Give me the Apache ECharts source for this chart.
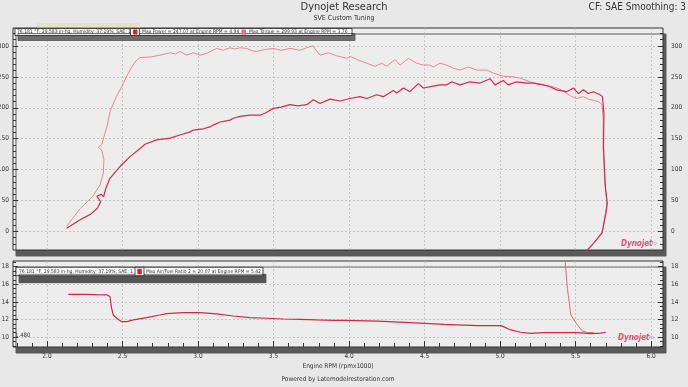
<!DOCTYPE html>
<html><head><meta charset="utf-8">
<script src="https://cdn.jsdelivr.net/npm/echarts@6/dist/echarts.min.js"></script>
<style>html,body{margin:0;padding:0;background:#e8e8e8;}#c{width:688px;height:387px;}</style>
</head><body><div id="c"></div>
<script>
const FONT = '"Liberation Sans Narrow","DejaVu Sans Condensed","Liberation Sans",sans-serif';

// X axis (Engine RPM x1000)
const rpmMajor = [2.0, 2.5, 3.0, 3.5, 4.0, 4.5, 5.0, 5.5, 6.0];
const rpmMinor = [1.8,1.9,2.0,2.1,2.2,2.3,2.4,2.5,2.6,2.7,2.8,2.9,3.0,3.1,3.2,3.3,3.4,3.5,3.6,3.7,3.8,3.9,4.0,4.1,4.2,4.3,4.4,4.5,4.6,4.7,4.8,4.9,5.0,5.1,5.2,5.3,5.4,5.5,5.6,5.7,5.8,5.9,6.0];
// Top panel ticks
const topMajor = [0, 50, 100, 150, 200, 250, 300];
const topMinor = [-20,-10,0,10,20,30,40,50,60,70,80,90,100,110,120,130,140,150,160,170,180,190,200,210,220,230,240,250,260,270,280,290,300,310,320];
// Bottom panel ticks
const botMajor = [10, 12, 14, 16, 18];
const botMinor = [9,9.5,10,10.5,11,11.5,12,12.5,13,13.5,14,14.5,15,15.5,16,16.5,17,17.5,18,18.5];

// Power [rpm, hp]
const powerData = [
 [2.13,5],[2.22,19],[2.29,28],[2.335,38],[2.355,48],[2.33,57],[2.36,60],[2.375,56],[2.39,70],[2.417,86],
 [2.483,105],[2.55,121],[2.616,134],[2.649,141],[2.726,148],[2.815,151],[2.881,156],[2.947,161],[2.969,164],
 [3.035,166],[3.079,169],[3.101,172],[3.146,177],[3.212,180],[3.234,183],[3.278,186],[3.344,188],[3.411,188],
 [3.45,192],[3.499,199],[3.55,201],[3.609,205],[3.66,203],[3.72,205],[3.764,213],[3.808,207],[3.874,214],
 [3.94,211],[4.007,215],[4.073,218],[4.117,215],[4.183,221],[4.227,218],[4.293,228],[4.316,224],[4.36,232],
 [4.404,226],[4.459,239],[4.492,232],[4.558,235],[4.603,237],[4.647,237],[4.68,242],[4.735,237],[4.801,242],
 [4.868,240],[4.934,247],[4.967,237],[5.022,244],[5.055,237],[5.11,242],[5.177,240],[5.221,240],[5.287,237],
 [5.331,234],[5.375,229],[5.442,226],[5.486,232],[5.519,223],[5.552,229],[5.585,223],[5.618,226],[5.662,221],
 [5.678,218],[5.688,190],[5.685,137],[5.696,78],[5.70,66],[5.71,45],[5.70,28],[5.676,-2],[5.62,-19],[5.566,-33]
];
// Torque [rpm, lb-ft]
const torqueData = [
 [2.13,8],[2.22,37],[2.30,56],[2.351,75],[2.373,94],[2.377,116],[2.362,132],[2.34,136],[2.362,140],[2.384,159],
 [2.40,172],[2.417,194],[2.46,218],[2.495,234],[2.53,252],[2.561,266],[2.59,276],[2.616,281],[2.682,282],
 [2.748,285],[2.815,289],[2.85,287],[2.881,291],[2.925,285],[2.969,289],[3.013,285],[3.058,288],[3.124,296],
 [3.168,293],[3.212,297],[3.245,295],[3.278,297],[3.322,296],[3.36,292],[3.389,291],[3.44,294],[3.499,296],
 [3.55,293],[3.609,296],[3.675,293],[3.742,299],[3.76,299.9],[3.808,285],[3.863,289],[3.918,284],[3.985,280],
 [4.007,283],[4.062,277],[4.117,272],[4.172,267],[4.217,272],[4.25,267],[4.305,278],[4.338,269],[4.393,280],
 [4.448,272],[4.492,269],[4.505,267],[4.536,269],[4.558,266],[4.603,272],[4.647,269],[4.691,264],[4.735,261],
 [4.79,266],[4.846,261],[4.912,261],[4.956,256],[5.022,251],[5.088,250],[5.132,248],[5.199,242],[5.243,239],
 [5.287,237],[5.353,234],[5.397,230],[5.442,223],[5.475,218],[5.508,215],[5.552,218],[5.585,214],[5.618,212],
 [5.651,210],[5.675,205],[5.684,180],[5.683,135],[5.694,80],[5.698,68],[5.708,47],[5.699,30],[5.674,-4],
 [5.618,-20],[5.562,-34]
];
// Air/Fuel ratio [rpm, AFR]
const afrData = [
 [2.141,14.86],[2.25,14.85],[2.33,14.82],[2.395,14.8],[2.417,14.6],[2.428,13.27],[2.439,12.5],[2.461,12.13],
 [2.495,11.74],[2.528,11.74],[2.572,11.94],[2.66,12.2],[2.748,12.5],[2.79,12.65],[2.9,12.77],[3.013,12.77],
 [3.124,12.62],[3.234,12.39],[3.344,12.2],[3.455,12.13],[3.565,12.05],[3.676,12.0],[3.786,11.94],[3.896,11.9],
 [3.97,11.9],[4.187,11.8],[4.408,11.63],[4.629,11.44],[4.85,11.29],[5.005,11.29],[5.038,11.06],[5.071,10.8],
 [5.137,10.54],[5.203,10.42],[5.291,10.5],[5.402,10.5],[5.512,10.5],[5.556,10.45],[5.6,10.38],[5.667,10.45],
 [5.70,10.54]
];
const afr2Data = [
 [5.424,20.07],[5.434,18.0],[5.446,15.54],[5.469,12.5],[5.49,11.94],[5.512,11.37],[5.545,10.69],[5.578,10.5],[5.62,10.5]
];

const X_MIN = 1.775, X_MAX = 6.079;
const TOP_MIN = -30, TOP_MAX = 329;
const BOT_MIN = 8.86, BOT_MAX = 18.65;

const lblStyle = {fontSize: 6.5, color: '#333', fontFamily: FONT};
const splitStyle = {show: true, lineStyle: {color: '#b8b8b8', type: [2, 2], width: 0.8}};
const LEG = '5px ' + FONT;

function yAx(grid, pos, min, max, major, minor, kind, extra) {
  const base = {type: 'value', gridIndex: grid, position: pos, min: min, max: max,
    axisLine: {show: false, onZero: false}};
  if (kind === 'major') {
    return Object.assign(base, {
      axisTick: {show: true, inside: true, length: 5, customValues: major, lineStyle: {color: '#333'}},
      axisLabel: Object.assign({customValues: major, margin: pos === 'left' ? 4 : 8}, lblStyle),
      splitLine: pos === 'left' ? splitStyle : {show: false}
    }, extra || {});
  }
  return Object.assign(base, {
    axisTick: {show: true, inside: true, length: 3, customValues: minor, lineStyle: {color: '#333'}},
    axisLabel: {show: false}, splitLine: {show: false}
  });
}

const chart = echarts.init(document.getElementById('c'));
const gridBase = {left: 13, right: 25, show: true, backgroundColor: '#ededed', borderColor: '#333', borderWidth: 1,
  shadowColor: '#5a5a5a', shadowOffsetX: 3, shadowOffsetY: 6, shadowBlur: 0.1,
  containLabel: false, outerBoundsMode: 'none'};

const option = {
  animation: false,
  backgroundColor: '#e8e8e8',
  textStyle: {fontFamily: FONT},
  grid: [
    Object.assign({top: 28, bottom: 137}, gridBase),
    Object.assign({top: 261, bottom: 40}, gridBase)
  ],
  xAxis: [
    {type: 'value', gridIndex: 0, min: X_MIN, max: X_MAX, position: 'bottom',
     axisLine: {show: false, onZero: false}, axisTick: {show: false, customValues: rpmMajor},
     axisLabel: {show: false, customValues: rpmMajor}, splitLine: splitStyle},
    {type: 'value', gridIndex: 1, min: X_MIN, max: X_MAX, position: 'bottom',
     axisLine: {show: false, onZero: false},
     axisTick: {show: true, inside: true, length: 6, customValues: rpmMajor, lineStyle: {color: '#333'}},
     axisLabel: Object.assign({customValues: rpmMajor, margin: 6, formatter: v => v.toFixed(1)}, lblStyle),
     splitLine: splitStyle,
     name: 'Engine RPM (rpmx1000)', nameLocation: 'middle', nameGap: 16,
     nameTextStyle: {fontSize: 6.5, color: '#333', fontFamily: FONT}},
    {type: 'value', gridIndex: 1, min: X_MIN, max: X_MAX, position: 'bottom',
     axisLine: {show: false, onZero: false},
     axisTick: {show: true, inside: true, length: 4, customValues: rpmMinor, lineStyle: {color: '#333'}},
     axisLabel: {show: false}, splitLine: {show: false}}
  ],
  yAxis: [
    yAx(0, 'left', TOP_MIN, TOP_MAX, topMajor, topMinor, 'major'),
    yAx(0, 'left', TOP_MIN, TOP_MAX, topMajor, topMinor, 'minor'),
    yAx(0, 'right', TOP_MIN, TOP_MAX, topMajor, topMinor, 'major',
      {name: 'Torque (lbf·ft)', nameLocation: 'middle', nameRotate: -90, nameGap: 16,
       nameTextStyle: {fontSize: 6.5, color: '#333', fontFamily: FONT}}),
    yAx(0, 'right', TOP_MIN, TOP_MAX, topMajor, topMinor, 'minor'),
    yAx(1, 'left', BOT_MIN, BOT_MAX, botMajor, botMinor, 'major'),
    yAx(1, 'left', BOT_MIN, BOT_MAX, botMajor, botMinor, 'minor'),
    yAx(1, 'right', BOT_MIN, BOT_MAX, botMajor, botMinor, 'major',
      {name: 'Ratio', nameLocation: 'middle', nameRotate: -90, nameGap: 14,
       nameTextStyle: {fontSize: 6.5, color: '#333', fontFamily: FONT}}),
    yAx(1, 'right', BOT_MIN, BOT_MAX, botMajor, botMinor, 'minor')
  ],
  series: [
    {name: 'Torque', type: 'line', xAxisIndex: 0, yAxisIndex: 0, data: torqueData, symbol: 'none',
     lineStyle: {color: '#e98593', width: 1}, z: 3},
    {name: 'Power', type: 'line', xAxisIndex: 0, yAxisIndex: 0, data: powerData, symbol: 'none',
     lineStyle: {color: '#d3294a', width: 1.2}, z: 4},
    {name: 'AFR', type: 'line', xAxisIndex: 1, yAxisIndex: 4, data: afrData, symbol: 'none',
     lineStyle: {color: '#d4283a', width: 1.2}, z: 4},
    {name: 'AFR 2', type: 'line', xAxisIndex: 1, yAxisIndex: 4, data: afr2Data, symbol: 'none',
     lineStyle: {color: '#e4687a', width: 1}, z: 3}
  ],
  graphic: [
    {type: 'text', z: 100, x: 344, y: 7, style: {text: 'Dynojet Research', font: '11px ' + FONT, fill: '#333', align: 'center', verticalAlign: 'middle'}},
    {type: 'text', z: 100, x: 344, y: 18, style: {text: 'SVE Custom Tuning', font: '7px ' + FONT, fill: '#333', align: 'center', verticalAlign: 'middle'}},
    {type: 'text', z: 100, x: 686, y: 7, style: {text: 'CF: SAE Smoothing: 3', font: '10px ' + FONT, fill: '#333', align: 'right', verticalAlign: 'middle'}},
    // top legend
    {type: 'rect', z: 100, shape: {x: 37, y: 23, width: 103, height: 10}, style: {fill: 'rgba(214,222,140,0.35)'}},
    {type: 'rect', z: 101, shape: {x: 15, y: 28.5, width: 337, height: 7},
     style: {fill: 'rgba(255,255,255,0.85)', stroke: '#222', lineWidth: 0.8, shadowColor: '#555', shadowOffsetX: 3, shadowOffsetY: 5, shadowBlur: 0.1}},
    {type: 'text', z: 102, x: 17, y: 32.2, style: {text: '76.181 °F, 29.583 in-hg, Humidity: 37.19%, SAE: 1', font: LEG, fill: '#333', verticalAlign: 'middle'}},
    {type: 'rect', z: 102, shape: {x: 130.5, y: 28.5, width: 9, height: 7}, style: {fill: '#fff', stroke: '#222', lineWidth: 0.8}},
    {type: 'rect', z: 103, shape: {x: 133, y: 29.5, width: 4.5, height: 5}, style: {fill: '#e0202c'}},
    {type: 'text', z: 102, x: 142, y: 32.2, style: {text: 'Max Power = 247.07 at Engine RPM = 4.94', font: LEG, fill: '#333', verticalAlign: 'middle'}},
    {type: 'rect', z: 103, shape: {x: 241.5, y: 29.5, width: 4.5, height: 5}, style: {fill: '#ec6a78'}},
    {type: 'text', z: 102, x: 249, y: 32.2, style: {text: 'Max Torque = 299.93 at Engine RPM = 3.76', font: LEG, fill: '#333', verticalAlign: 'middle'}},
    // bottom legend
    {type: 'rect', z: 101, shape: {x: 16, y: 267.3, width: 247, height: 8.4},
     style: {fill: '#fff', stroke: '#222', lineWidth: 0.8, shadowColor: '#555', shadowOffsetX: 3, shadowOffsetY: 7, shadowBlur: 0.1}},
    {type: 'text', z: 102, x: 19, y: 271.6, style: {text: '76.181 °F, 29.583 in-hg, Humidity: 37.19%, SAE: 1', font: LEG, fill: '#333', verticalAlign: 'middle'}},
    {type: 'rect', z: 102, shape: {x: 135, y: 267.3, width: 9, height: 8.4}, style: {fill: '#fff', stroke: '#222', lineWidth: 0.8}},
    {type: 'rect', z: 103, shape: {x: 137.3, y: 268.8, width: 4.5, height: 5.5}, style: {fill: '#e0202c'}},
    {type: 'text', z: 102, x: 146, y: 271.6, style: {text: 'Max Air/Fuel Ratio 2 = 20.07 at Engine RPM = 5.42', font: LEG, fill: '#333', verticalAlign: 'middle'}},
    {type: 'text', z: 100, x: 15, y: 335.5, style: {text: '1.480', font: '6px ' + FONT, fill: '#333', verticalAlign: 'middle'}},
    // logos
    {type: 'text', z: 100, x: 621, y: 243.5, style: {text: 'Dynojet', font: 'italic bold 8px ' + FONT, fill: '#e4506a', verticalAlign: 'middle'}},
    {type: 'text', z: 100, x: 648, y: 243.5, style: {text: 'pro', font: '6px ' + FONT, fill: '#a8a8a8', verticalAlign: 'middle'}},
    {type: 'text', z: 100, x: 618, y: 337.5, style: {text: 'Dynojet', font: 'italic bold 8px ' + FONT, fill: '#e4506a', verticalAlign: 'middle'}},
    {type: 'text', z: 100, x: 645, y: 337.5, style: {text: 'pro', font: '6px ' + FONT, fill: '#a8a8a8', verticalAlign: 'middle'}},
    {type: 'text', z: 100, x: 338, y: 379.5, style: {text: 'Powered by Latemodelrestoration.com', font: '6.5px ' + FONT, fill: '#333', align: 'center', verticalAlign: 'middle'}}
  ]
};
chart.setOption(option);
</script></body></html>
